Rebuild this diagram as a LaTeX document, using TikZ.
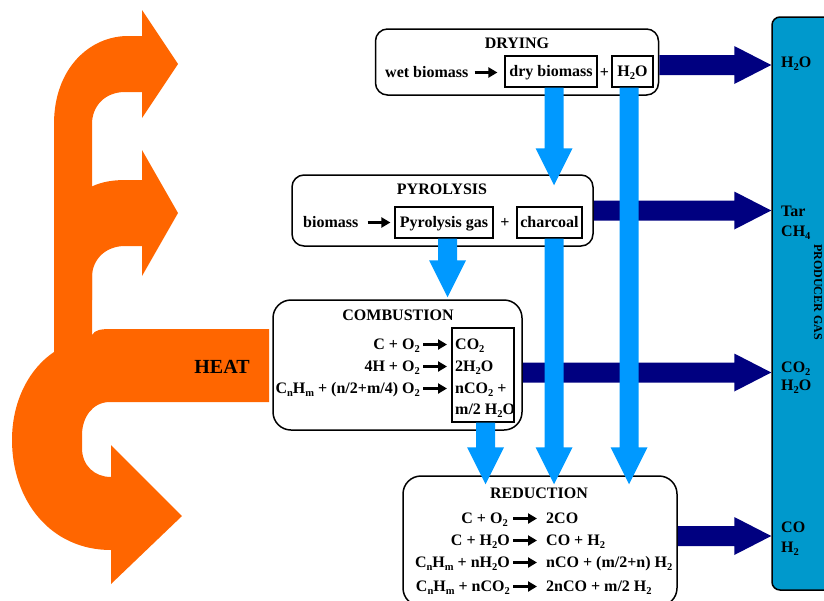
\documentclass[tikz,border=0pt]{standalone}
\usepackage{fontspec}
\setmainfont{Liberation Serif}
\usetikzlibrary{arrows.meta,calc}
\definecolor{heatorange}{HTML}{FF6600}
\definecolor{navyarr}{HTML}{000080}
\definecolor{feedblue}{HTML}{0099FF}
\definecolor{gasblue}{HTML}{0099CC}
\newcommand{\sbs}[1]{\raisebox{-3.4pt}{\fontsize{10.5}{11}\selectfont #1}}
\newcommand{\feedarrow}[2]{\fill[feedblue] ($(#1)+(-9.5,0)$) -- ($(#2)+(-9.5,-37)$) -- ($(#2)+(-18.5,-37)$) -- (#2) -- ($(#2)+(18.5,-37)$) -- ($(#2)+(9.5,-37)$) -- ($(#1)+(9.5,0)$) -- cycle;}
\newcommand{\outarrow}[2]{\fill[navyarr] ($(#1)+(0,-10)$) -- ($(#2)+(-37,-10)$) -- ($(#2)+(-37,-19)$) -- (#2) -- ($(#2)+(-37,19)$) -- ($(#2)+(-37,10)$) -- ($(#1)+(0,10)$) -- cycle;}
\begin{document}
\begin{tikzpicture}[x=1pt,y=-1pt,font=\bfseries\fontsize{16}{20}\selectfont,
  procbox/.style={draw,line width=1.5pt,rounded corners=12pt,fill=white},
  bigbox/.style={procbox,rounded corners=18pt},
  itembox/.style={draw,line width=1.2pt,inner sep=0pt,text height=12pt,text depth=2pt},
  txt/.style={inner sep=0pt,text height=11pt,text depth=2pt},
  txtarrow/.style={line width=2.4pt,-{Triangle[length=9pt,width=10pt]}},
  gaslabel/.style={txt,anchor=base west}]
\useasboundingbox (0,0) rectangle (824,600);
\clip (0,0) rectangle (824,600);

% heat arrow
\fill[heatorange] (54,355) -- (54,124) .. controls (54,68) and (90,36) .. (128,36) -- (142,36) -- (142,10) -- (178,64) -- (142,118) -- (142,92) -- (125,92) .. controls (105,92) and (92,106) .. (92,124) -- (92,355) -- cycle;
\fill[heatorange] (70,205) .. controls (82,188) and (100,180) .. (125,180) -- (142,180) -- (142,150) -- (178,213) -- (142,276) -- (142,246) -- (125,246) .. controls (105,246) and (92,260) .. (92,277) -- (92,300) -- (70,300) -- cycle;
\fill[heatorange] (92,335) .. controls (95,330) and (100,329) .. (112,329) -- (269,329) -- (269,402) -- (110,402) .. controls (92,402) and (82,418) .. (82,435) -- (82,448) .. controls (82,466) and (95,477) .. (111,477) -- (111,445) -- (182,516) -- (111,584) -- (111,550) .. controls (50,550) and (12,500) .. (12,440) .. controls (12,400) and (30,368) .. (54,352) -- (54,335) -- cycle;
\node[font=\bfseries\fontsize{20}{24}\selectfont] (heat) at (222,367) {HEAT};

% producer gas
\node[draw,line width=1.5pt,fill=gasblue,rounded corners=8pt,minimum width=70pt,minimum height=573pt] (gas) at (807,303.5) {};
\node[rotate=-90,font=\bfseries\fontsize{12}{14}\selectfont] (gasT) at (818,292) {PRODUCER GAS};
\node[gaslabel] (g1) at (781,67) {H\sbs{2}O};
\node[gaslabel] (g2) at (781,216) {Tar};
\node[gaslabel] (g3) at (781,236) {CH\sbs{4}};
\node[gaslabel] (g4) at (781,372) {CO\sbs{2}};
\node[gaslabel] (g5) at (781,390) {H\sbs{2}O};
\node[gaslabel] (g6) at (781,532) {CO};
\node[gaslabel] (g7) at (781,552) {H\sbs{2}};

% drying
\node[procbox,minimum width=283pt,minimum height=66pt] (drying) at (517,62) {};
\node[txt,anchor=base] (dryT) at (517,48) {DRYING};
\node[txt,anchor=base west] (wb) at (385,77) {wet biomass};
\node[itembox,minimum width=92pt,minimum height=31pt] (db) at (551,71.5) {dry biomass};
\node[txt,anchor=base] (p1) at (604.5,77) {+};
\node[itembox,minimum width=41pt,minimum height=31pt] (h2oA) at (632.5,71.5) {H\sbs{2}O};
\draw[txtarrow,shorten <=6pt,shorten >=7pt] (wb.east) -- (wb.east -| db.west);

% pyrolysis
\node[procbox,minimum width=301pt,minimum height=71pt] (pyro) at (442.5,210.5) {};
\node[txt,anchor=base] (pyroT) at (442,194) {PYROLYSIS};
\node[txt,anchor=base west] (bm) at (303,227) {biomass};
\node[itembox,minimum width=98pt,minimum height=31pt] (pg) at (444,222.5) {Pyrolysis gas};
\node[txt,anchor=base] (p2) at (505,227) {+};
\node[itembox,minimum width=65pt,minimum height=31pt] (ch) at (549.5,222.5) {charcoal};
\draw[txtarrow,shorten <=9pt,shorten >=4pt] (bm.east) -- (bm.east -| pg.west);

% combustion
\node[bigbox,minimum width=249pt,minimum height=130pt] (comb) at (397.5,365) {};
\node[txt,anchor=base] (combT) at (398,320) {COMBUSTION};
\node[draw,line width=1.2pt,minimum width=62pt,minimum height=94pt] (prod) at (483,375) {};
\node[txt,anchor=base east] (c1l) at (420,349) {C + O\sbs{2}};
\node[txt,anchor=base east] (c2l) at (420,371) {4H + O\sbs{2}};
\node[txt,anchor=base east] (c3l) at (420,393) {C\sbs{n}H\sbs{m} + (n/2+m/4) O\sbs{2}};
\node[txt,anchor=base west] (c1r) at (455,349) {CO\sbs{2}};
\node[txt,anchor=base west] (c2r) at (455,371) {2H\sbs{2}O};
\node[txt,anchor=base west] (c3r) at (455,393) {nCO\sbs{2} +};
\node[txt,anchor=base west] (c4r) at (455,414) {m/2 H\sbs{2}O};
\foreach \r in {1,2,3}{\draw[txtarrow,shorten <=3pt,shorten >=8pt] (c\r l.east) -- (c\r l.east -| c\r r.west);}

% reduction
\node[bigbox,minimum width=274pt,minimum height=130pt] (red) at (540,541) {};
\node[txt,anchor=base] (redT) at (539,498) {REDUCTION};
\node[txt,anchor=base east] (r1l) at (508,523) {C + O\sbs{2}};
\node[txt,anchor=base east] (r2l) at (510,545) {C + H\sbs{2}O};
\node[txt,anchor=base east] (r3l) at (510,567) {C\sbs{n}H\sbs{m} + nH\sbs{2}O};
\node[txt,anchor=base east] (r4l) at (510,591) {C\sbs{n}H\sbs{m} + nCO\sbs{2}};
\node[txt,anchor=base west] (r1r) at (546,523) {2CO};
\node[txt,anchor=base west] (r2r) at (546,545) {CO + H\sbs{2}};
\node[txt,anchor=base west] (r3r) at (546,567) {nCO + (m/2+n) H\sbs{2}};
\node[txt,anchor=base west] (r4r) at (546,591) {2nCO + m/2 H\sbs{2}};
\draw[txtarrow,shorten <=5pt,shorten >=9pt] (r1l.east) -- (r1l.east -| r1r.west);
\foreach \r in {2,3,4}{\draw[txtarrow,shorten <=3pt,shorten >=9pt] (r\r l.east) -- (r\r l.east -| r\r r.west);}

% product gas arrows
\coordinate (o1s) at ([yshift=-3pt]drying.east);
\coordinate (o1e) at (o1s -| gas.west);
\coordinate (o2s) at (pyro.east);
\coordinate (o2e) at (o2s -| gas.west);
\coordinate (o3s) at ([yshift=-7.5pt]comb.east);
\coordinate (o3e) at (o3s -| gas.west);
\coordinate (o4s) at ([yshift=5pt]red.east);
\coordinate (o4e) at (o4s -| gas.west);
\outarrow{o1s}{o1e}
\outarrow{o2s}{o2e}
\outarrow{o3s}{o3e}
\outarrow{o4s}{o4e}

% feed arrows
\coordinate (a1) at ([xshift=3pt]db.south);
\coordinate (a2) at ($(a1 |- pyro.north)+(0,11)$);
\coordinate (b1) at ([xshift=-3.5pt]h2oA.south);
\coordinate (b2) at ($(b1 |- red.north)+(0,9)$);
\coordinate (c1) at ([xshift=3.5pt]pg.south);
\coordinate (c2) at ($(c1 |- comb.north)+(0,-2)$);
\coordinate (d1) at ([xshift=4.5pt]ch.south);
\coordinate (d2) at ($(d1 |- red.north)+(0,9)$);
\coordinate (e1) at ([xshift=2.5pt]prod.south);
\coordinate (e2) at ($(e1 |- red.north)+(0,9)$);
\feedarrow{a1}{a2}
\feedarrow{b1}{b2}
\feedarrow{c1}{c2}
\feedarrow{d1}{d2}
\feedarrow{e1}{e2}
\end{tikzpicture}
\end{document}
